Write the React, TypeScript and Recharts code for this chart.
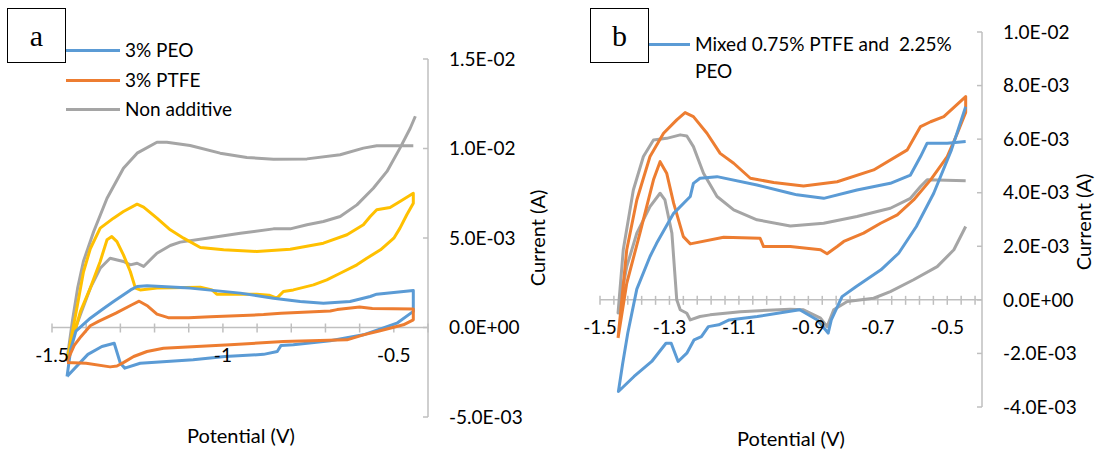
import React from "react";
import { LineChart, Line, XAxis, YAxis, ReferenceLine } from "recharts";

// [potential (V), current (mA)], in scan order
type Pt = [number, number];

const peoA: Pt[] = [
  [-1.456, -2.74], [-1.445, -1.2], [-1.43, -0.2], [-1.388, 0.52], [-1.35, 1.05], [-1.32, 1.45],
  [-1.27, 2.1], [-1.251, 2.29], [-1.222, 2.33], [-1.096, 2.2], [-0.949, 1.92], [-0.852, 1.64],
  [-0.774, 1.45], [-0.706, 1.36], [-0.628, 1.45], [-0.569, 1.73], [-0.55, 1.86], [-0.443, 2.07],
  [-0.443, 0.9], [-0.491, 0.24], [-0.589, -0.41], [-0.686, -0.74], [-0.794, -0.97], [-0.83, -1.0],
  [-0.841, -1.34], [-0.881, -1.5], [-0.994, -1.62], [-1.087, -1.8], [-1.242, -2.0], [-1.287, -2.27],
  [-1.3, -2.0], [-1.318, -0.88], [-1.354, -1.06], [-1.395, -1.5], [-1.456, -2.74],
];

const ptfeA: Pt[] = [
  [-1.456, -1.9], [-1.435, -1.0], [-1.415, -0.5], [-1.388, 0.1], [-1.364, 0.34], [-1.313, 0.8],
  [-1.266, 1.27], [-1.245, 1.47], [-1.22, 1.2], [-1.193, 0.75], [-1.16, 0.55], [-1.1, 0.55],
  [-1.037, 0.6], [-0.881, 0.72], [-0.83, 0.8], [-0.686, 0.92], [-0.666, 1.0], [-0.6, 1.15],
  [-0.563, 1.06], [-0.443, 1.04],
  [-0.443, 0.43], [-0.472, 0.15], [-0.54, -0.18], [-0.589, -0.41], [-0.637, -0.69], [-0.823, -0.78],
  [-0.979, -0.97], [-1.174, -1.16], [-1.222, -1.34], [-1.261, -1.62], [-1.29, -1.95], [-1.31, -2.15],
  [-1.33, -2.2], [-1.4, -2.0], [-1.456, -1.95],
];

const plainA: Pt[] = [
  [-0.443, 10.15], [-0.55, 10.15], [-0.589, 10.02], [-0.657, 9.65], [-0.754, 9.42], [-0.852, 9.4],
  [-0.93, 9.5], [-1.008, 9.74], [-1.096, 10.17], [-1.164, 10.35], [-1.193, 10.35], [-1.251, 9.74],
  [-1.291, 8.9], [-1.339, 7.22], [-1.378, 5.36], [-1.408, 3.7], [-1.425, 2.2], [-1.44, 0.4],
  [-1.456, -1.8], [-1.44, -0.5], [-1.417, 0.71], [-1.388, 2.2], [-1.359, 3.31], [-1.33, 3.87],
  [-1.291, 3.69], [-1.271, 3.5], [-1.251, 3.59], [-1.232, 3.41], [-1.193, 4.15], [-1.154, 4.58],
  [-1.125, 4.77], [-1.047, 4.99], [-0.949, 5.27], [-0.852, 5.51], [-0.803, 5.51], [-0.754, 5.74],
  [-0.706, 5.92], [-0.657, 6.2], [-0.608, 6.85], [-0.56, 7.78], [-0.52, 8.72], [-0.482, 10.02],
  [-0.452, 11.13], [-0.437, 11.8],
];

const extraA: Pt[] = [
  [-1.456, -1.8], [-1.43, 0.8], [-1.408, 3.1], [-1.388, 4.4], [-1.359, 5.55], [-1.32, 6.11],
  [-1.291, 6.48], [-1.251, 6.89], [-1.232, 6.73], [-1.193, 6.11], [-1.154, 5.46], [-1.115, 4.99],
  [-1.066, 4.47], [-0.998, 4.34], [-0.901, 4.25], [-0.803, 4.37], [-0.706, 4.71], [-0.637, 5.18],
  [-0.589, 5.74], [-0.569, 6.2], [-0.55, 6.58], [-0.511, 6.7], [-0.482, 7.04], [-0.443, 7.5],
  [-0.443, 6.94], [-0.462, 6.3], [-0.482, 5.55], [-0.5, 4.99], [-0.539, 4.34], [-0.579, 3.87],
  [-0.608, 3.5], [-0.657, 3.03], [-0.696, 2.66], [-0.735, 2.38], [-0.794, 2.1], [-0.823, 2.01],
  [-0.842, 1.64], [-0.865, 1.8], [-0.901, 1.86], [-1.018, 1.86], [-1.032, 2.1], [-1.066, 2.25],
  [-1.193, 2.2], [-1.242, 2.1], [-1.256, 2.2], [-1.271, 3.13], [-1.291, 4.06], [-1.31, 4.8],
  [-1.325, 5.08], [-1.339, 4.9], [-1.359, 3.69], [-1.388, 2.2], [-1.417, 0.89], [-1.456, -1.8],
];

const mixedB: Pt[] = [
  [-0.447, 5.91], [-0.5, 5.85], [-0.558, 5.85], [-0.577, 5.35], [-0.606, 4.66], [-0.664, 4.35],
  [-0.76, 4.1], [-0.856, 3.79], [-0.933, 3.92], [-0.952, 3.98], [-1.048, 4.29], [-1.163, 4.6],
  [-1.212, 4.54], [-1.231, 4.35], [-1.24, 3.86], [-1.288, 3.23], [-1.337, 2.11], [-1.356, 1.62],
  [-1.394, 0.4], [-1.42, -1.24], [-1.435, -2.4], [-1.447, -3.42], [-1.402, -2.86], [-1.351, -2.3],
  [-1.31, -1.62], [-1.295, -1.62], [-1.275, -2.3], [-1.25, -1.99], [-1.229, -1.49], [-1.208, -1.37],
  [-1.188, -1.0], [-1.158, -0.93], [-1.128, -0.75], [-1.047, -0.62], [-0.925, -0.37], [-0.874, -0.75],
  [-0.843, -1.24], [-0.834, -0.75], [-0.803, 0.12], [-0.762, 0.5], [-0.691, 1.12], [-0.64, 1.74],
  [-0.589, 2.74], [-0.539, 3.98], [-0.488, 5.6], [-0.447, 7.21],
];

const orangeB: Pt[] = [
  [-1.448, -1.42], [-1.423, 1.87], [-1.394, 3.73], [-1.356, 5.35], [-1.317, 6.22], [-1.279, 6.72],
  [-1.255, 6.99], [-1.231, 6.84], [-1.192, 6.22], [-1.154, 5.47], [-1.115, 5.1], [-1.067, 4.54],
  [-1.0, 4.38], [-0.914, 4.25], [-0.817, 4.41], [-0.712, 4.85], [-0.615, 5.6], [-0.577, 6.47],
  [-0.548, 6.65], [-0.51, 6.84], [-0.447, 7.59],
  [-0.447, 7.0], [-0.471, 6.22], [-0.5, 5.35], [-0.548, 4.48], [-0.597, 3.73], [-0.644, 3.17],
  [-0.692, 2.86], [-0.741, 2.49], [-0.798, 2.18], [-0.817, 1.99], [-0.846, 1.72], [-0.865, 1.87],
  [-0.952, 1.99], [-1.029, 1.99], [-1.039, 2.3], [-1.144, 2.34], [-1.24, 2.09], [-1.26, 2.36],
  [-1.288, 3.61], [-1.308, 4.73], [-1.327, 5.16], [-1.346, 4.48], [-1.385, 2.49], [-1.423, 0.62],
  [-1.448, -1.42],
];

const grayB: Pt[] = [
  [-0.447, 4.45], [-0.558, 4.48], [-0.577, 4.23], [-0.606, 3.79], [-0.664, 3.42], [-0.76, 3.11],
  [-0.856, 2.86], [-0.952, 2.76], [-1.048, 2.99], [-1.115, 3.36], [-1.163, 3.86], [-1.202, 4.73],
  [-1.231, 5.72], [-1.25, 6.12], [-1.269, 6.16], [-1.308, 6.03], [-1.346, 5.97], [-1.375, 5.35],
  [-1.404, 4.1], [-1.433, 1.87], [-1.448, -0.49], [-1.423, 1.24], [-1.394, 2.49], [-1.356, 3.48],
  [-1.327, 3.98], [-1.313, 3.73], [-1.293, 2.49], [-1.279, 0.0], [-1.269, -0.37], [-1.25, -0.5],
  [-1.24, -0.75], [-1.212, -0.62], [-1.183, -0.56], [-1.096, -0.44], [-0.952, -0.35], [-0.914, -0.37],
  [-0.865, -0.68], [-0.846, -1.0], [-0.827, -0.37], [-0.788, -0.06], [-0.712, 0.06], [-0.664, 0.31],
  [-0.597, 0.75], [-0.529, 1.24], [-0.481, 1.87], [-0.447, 2.74],
];

const xDomain: [number, number] = [-1.5, -0.4];
const xLabelsA = [-1.5, -1, -0.5];
const xLabelsB = [-1.5, -1.3, -1.1, -0.9, -0.7, -0.5];
const yTicksA = [-0.005, 0, 0.005, 0.01, 0.015];
const yTicksB = [-0.004, -0.002, 0, 0.002, 0.004, 0.006, 0.008, 0.01];

const BLUE = "#5B9BD5";
const ORANGE = "#ED7D31";
const GRAY = "#A5A5A5";
const YELLOW = "#FFC000";
const AXIS = "#BFBFBF";
const FONT = "Lato, 'Liberation Sans', sans-serif";
const FS = 19;

const rows = (pts: Pt[]) => pts.map(([v, ma]) => ({ v, i: ma / 1000 }));

function sci(value: number) {
  const [m, e] = value.toExponential(1).split("e");
  const n = parseInt(e, 10);
  return `${m}E${n < 0 ? "-" : "+"}${String(Math.abs(n)).padStart(2, "0")}`;
}

function minorTicks(step: number) {
  const out: number[] = [];
  for (let k = 0; ; k++) {
    const v = xDomain[0] + k * step;
    if (v > xDomain[1] + 1e-9) break;
    out.push(v);
  }
  return out;
}

// x axis crosses at zero current, so it is drawn on the y = 0 reference line:
// line + ticks under the curves, tick labels on top of them
function zeroAxis(step: number) {
  const minors = minorTicks(step);
  return (p: any) => {
    const left = Math.min(p.x1, p.x2);
    const right = Math.max(p.x1, p.x2);
    const y = p.y1;
    const sx = (v: number) => left + ((v - xDomain[0]) / (xDomain[1] - xDomain[0])) * (right - left);
    return (
      <g>
        <line x1={left} x2={right} y1={y} y2={y} stroke={AXIS} strokeWidth={1.5} />
        {minors.map((t, i) => (
          <line key={i} x1={sx(t)} x2={sx(t)} y1={y - 4} y2={y + 5} stroke={AXIS} strokeWidth={1.5} />
        ))}
      </g>
    );
  };
}

function zeroLabels(labels: number[]) {
  return (p: any) => {
    const left = Math.min(p.x1, p.x2);
    const right = Math.max(p.x1, p.x2);
    const y = p.y1;
    const sx = (v: number) => left + ((v - xDomain[0]) / (xDomain[1] - xDomain[0])) * (right - left);
    return (
      <g>
        {labels.map((t) => (
          <text
            key={t}
            x={sx(t)}
            y={y + 27}
            textAnchor="middle"
            dominantBaseline="central"
            fill="#000"
            fontSize={FS}
            fontFamily={FONT}
          >
            {String(t)}
          </text>
        ))}
      </g>
    );
  };
}

function Panel({
  series,
  yDomain,
  yTicks,
  step,
  labels,
  margin,
}: {
  series: { pts: Pt[]; color: string; name: string }[];
  yDomain: [number, number];
  yTicks: number[];
  step: number;
  labels: number[];
  margin: { top: number; right: number; bottom: number; left: number };
}) {
  return (
    <LineChart width={548} height={451} margin={margin}>
      <XAxis type="number" dataKey="v" domain={xDomain} hide allowDataOverflow />
      <YAxis
        orientation="right"
        type="number"
        domain={yDomain}
        ticks={yTicks}
        interval={0}
        allowDataOverflow
        width={100}
        tickFormatter={sci}
        axisLine={{ stroke: AXIS, strokeWidth: 1.5 }}
        tickLine={{ stroke: AXIS, strokeWidth: 1.5 }}
        tickSize={-5}
        tickMargin={26}
        tick={{ fill: "#000", fontSize: FS, fontFamily: FONT }}
      />
      <ReferenceLine y={0} shape={zeroAxis(step)} />
      {series.map((s) => (
        <Line
          key={s.name}
          name={s.name}
          data={rows(s.pts)}
          dataKey="i"
          type="linear"
          stroke={s.color}
          strokeWidth={3}
          strokeLinejoin="round"
          dot={false}
          isAnimationActive={false}
        />
      ))}
      <ReferenceLine y={0} shape={zeroLabels(labels)} />
    </LineChart>
  );
}

const abs = (style: React.CSSProperties): React.CSSProperties => ({ position: "absolute", ...style });

function LegendRow({ x, y, w, color, text }: { x: number; y: number; w: number; color: string; text: string }) {
  return (
    <>
      <div style={abs({ left: x, top: y - 1.5, width: w, height: 3, background: color })} />
      <div style={abs({ left: x + w + 5, top: y - 12, lineHeight: "24px", fontSize: FS, whiteSpace: "pre" })}>{text}</div>
    </>
  );
}

function TagBox({ x, label }: { x: number; label: string }) {
  return (
    <div
      style={abs({
        left: x,
        top: 8,
        width: 59,
        height: 55,
        border: "1px solid #000",
        boxSizing: "border-box",
        display: "flex",
        alignItems: "center",
        justifyContent: "center",
        fontFamily: "'Liberation Serif', serif",
        fontSize: 30,
      })}
    >
      {label}
    </div>
  );
}

function Title({ x, y, text, vertical }: { x: number; y: number; text: string; vertical?: boolean }) {
  return (
    <div
      style={abs({
        left: x,
        top: y,
        fontSize: 20,
        whiteSpace: "nowrap",
        transform: `translate(-50%, -50%)${vertical ? " rotate(-90deg)" : ""}`,
      })}
    >
      {text}
    </div>
  );
}

export default function App() {
  return (
    <div
      style={{
        position: "absolute",
        left: 0,
        top: 0,
        width: 1096,
        height: 451,
        background: "#fff",
        fontFamily: FONT,
        color: "#000",
        overflow: "hidden",
      }}
    >
      <div style={abs({ left: 0, top: 0 })}>
        <Panel
          series={[
            { pts: plainA, color: GRAY, name: "Non additive" },
            { pts: extraA, color: YELLOW, name: "extra" },
            { pts: peoA, color: BLUE, name: "3% PEO" },
            { pts: ptfeA, color: ORANGE, name: "3% PTFE" },
          ]}
          yDomain={[-0.005, 0.015]}
          yTicks={yTicksA}
          step={0.1}
          labels={xLabelsA}
          margin={{ top: 59, right: 20, bottom: 34, left: 52 }}
        />
      </div>
      <div style={abs({ left: 548, top: 0 })}>
        <Panel
          series={[
            { pts: grayB, color: GRAY, name: "gray" },
            { pts: orangeB, color: ORANGE, name: "orange" },
            { pts: mixedB, color: BLUE, name: "Mixed 0.75% PTFE and  2.25% PEO" },
          ]}
          yDomain={[-0.004, 0.01]}
          yTicks={yTicksB}
          step={0.04}
          labels={xLabelsB}
          margin={{ top: 32, right: 14, bottom: 44, left: 52 }}
        />
      </div>

      <TagBox x={7} label="a" />
      <LegendRow x={66} y={50} w={54} color={BLUE} text="3% PEO" />
      <LegendRow x={66} y={80} w={54} color={ORANGE} text="3% PTFE" />
      <LegendRow x={66} y={109} w={54} color={GRAY} text="Non additive" />
      <Title x={241} y={435} text="Potential (V)" />
      <Title x={537} y={238} text="Current (A)" vertical />

      <TagBox x={590} label="b" />
      <LegendRow x={649} y={44} w={41} color={BLUE} text="Mixed 0.75% PTFE and  2.25%" />
      <div style={abs({ left: 695, top: 59, lineHeight: "24px", fontSize: FS })}>PEO</div>
      <Title x={791} y={438} text="Potential (V)" />
      <Title x={1083} y={222} text="Current (A)" vertical />
    </div>
  );
}
